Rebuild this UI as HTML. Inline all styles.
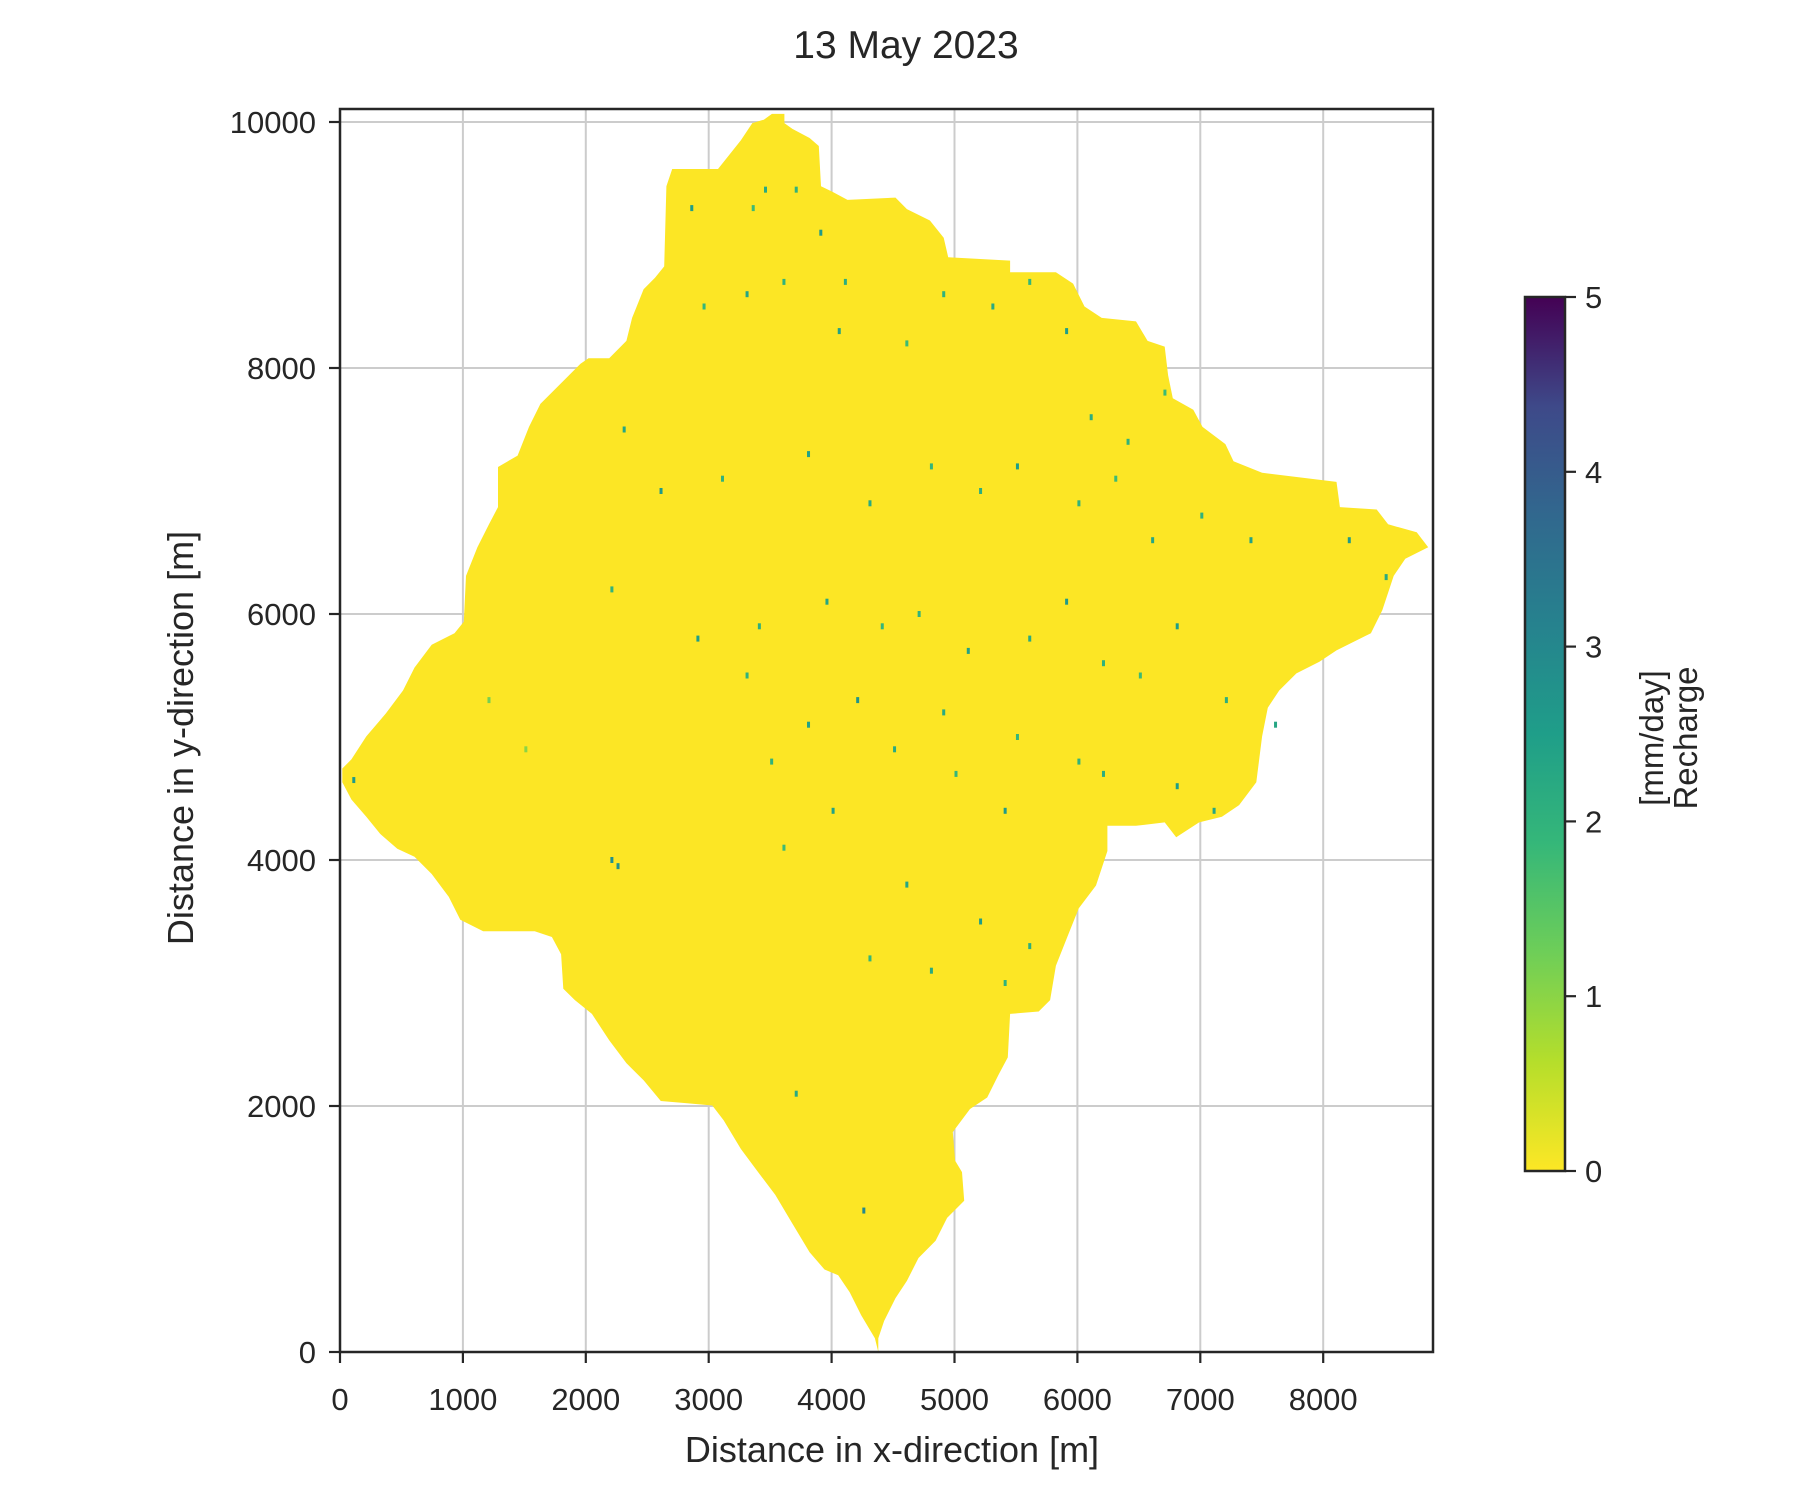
<!DOCTYPE html>
<html><head><meta charset="utf-8"><style>
html,body{margin:0;padding:0;background:#fff;}
svg{display:block;font-family:"Liberation Sans",Arial,sans-serif;}
</style></head><body>
<svg id="chart" width="1800" height="1500" viewBox="0 0 1800 1500" xmlns="http://www.w3.org/2000/svg">
<defs>
<linearGradient id="viridis" x1="0" y1="1" x2="0" y2="0">
<stop offset="0" stop-color="#fde725"/><stop offset="0.125" stop-color="#b5de2b"/><stop offset="0.25" stop-color="#6ece58"/><stop offset="0.375" stop-color="#35b779"/><stop offset="0.5" stop-color="#1f9e89"/><stop offset="0.625" stop-color="#26828e"/><stop offset="0.75" stop-color="#31688e"/><stop offset="0.875" stop-color="#3e4989"/><stop offset="1" stop-color="#440154"/>
</linearGradient>
<clipPath id="plotclip"><rect x="340" y="109" width="1093" height="1243"/></clipPath>
</defs>
<text x="906" y="58" font-size="39" text-anchor="middle" fill="#262626">13 May 2023</text>
<g id="grid"></g>
<g id="field" clip-path="url(#plotclip)"></g>
<g id="axes"></g>
<text x="892" y="1462" font-size="36" text-anchor="middle" fill="#262626">Distance in x-direction [m]</text>
<text transform="translate(193,738) rotate(-90)" font-size="36" text-anchor="middle" fill="#262626">Distance in y-direction [m]</text>
<g id="cbar"></g>
<text transform="translate(1673,738) rotate(-90)" font-size="33" text-anchor="middle" fill="#262626"><tspan x="0" dy="-10">[mm/day]</tspan><tspan x="0" dy="34">Recharge</tspan></text>
</svg>
<script>
// Axis data
const xTicks = [0,1000,2000,3000,4000,5000,6000,7000,8000];
const yTicks = [0,2000,4000,6000,8000,10000];
const cbTicks = [0,1,2,3,4,5];
// Catchment boundary (meters)
const boundaryX = [3514,3616,3616,3681,3821,3896,3914,4008,4129,4520,4613,4800,4912,4949,5452,5452,5825,5965,6058,6198,6477,6571,6710,6738,6776,6943,7018,7204,7270,7503,8108,8136,8435,8528,8761,8854,8668,8574,8481,8388,8108,7969,7782,7642,7549,7503,7456,7316,7176,6990,6804,6710,6477,6244,6244,6151,6011,5918,5825,5778,5685,5452,5434,5359,5266,5126,4986,5005,5061,5079,4940,4846,4707,4613,4520,4427,4380,4380,4352,4241,4147,4054,3942,3821,3681,3542,3402,3262,3122,3029,2824,2610,2470,2330,2190,2050,1911,1817,1799,1724,1584,1165,979,885,746,606,466,326,214,93,19,19,93,214,373,513,606,746,932,1007,1025,1118,1212,1286,1286,1445,1538,1631,1817,1957,2022,2190,2330,2377,2470,2563,2638,2656,2703,3076,3262,3355,3448];
const boundaryY = [10066,10066,9991,9944,9870,9805,9478,9432,9367,9385,9292,9199,9059,8901,8873,8779,8779,8686,8500,8407,8379,8220,8174,7941,7754,7661,7521,7381,7242,7148,7074,6869,6850,6729,6664,6543,6449,6310,6030,5844,5704,5611,5517,5378,5238,5005,4632,4446,4352,4306,4185,4306,4278,4278,4073,3793,3607,3374,3141,2861,2768,2749,2395,2255,2069,1976,1789,1556,1463,1230,1090,904,764,578,438,252,112,0,112,298,485,624,671,811,1044,1277,1463,1650,1883,2004,2022,2041,2209,2349,2535,2749,2861,2954,3234,3374,3420,3420,3514,3700,3886,4026,4091,4213,4352,4492,4632,4744,4818,5005,5191,5378,5564,5750,5844,5937,6310,6543,6729,6869,7195,7288,7521,7708,7894,8034,8080,8080,8220,8407,8640,8733,8826,9478,9618,9618,9851,9991,10019];
// Scattered recharge cells (meters, mm/day)
const cellX = [2850,3350,3450,3700,3900,4100,2950,3300,3600,4050,4600,4900,5300,5600,5900,6100,6400,6700,2300,2600,3100,3800,4300,4800,5200,5500,6000,6300,6600,7000,7400,8200,8500,2200,2900,3400,3950,4400,4700,5100,5600,5900,6200,6500,6800,7200,7600,3300,3800,4200,4900,5500,6200,6800,7100,2200,3500,4000,4500,5000,5400,6000,3600,4600,5200,5600,4300,4800,5400,1200,1500,100,2250,3700,4250];
const cellY = [9300,9300,9450,9450,9100,8700,8500,8600,8700,8300,8200,8600,8500,8700,8300,7600,7400,7800,7500,7000,7100,7300,6900,7200,7000,7200,6900,7100,6600,6800,6600,6600,6300,6200,5800,5900,6100,5900,6000,5700,5800,6100,5600,5500,5900,5300,5100,5500,5100,5300,5200,5000,4700,4600,4400,4000,4800,4400,4900,4700,4400,4800,4100,3800,3500,3300,3200,3100,3000,5300,4900,4650,3950,2100,1150];
const cellV = [2.5,1.8,2.2,2,2.6,2.1,1.9,2.3,2,2.4,1.8,2,2.2,1.9,2.5,2.1,2,1.8,2.3,2.6,2,2.4,2.2,1.9,2.1,2.5,2,1.8,2.3,2,2.4,2.6,2.2,2,2.5,2.1,2.3,1.9,2,2.4,2.2,2.6,2,1.8,2.5,2.1,2.3,2,2.4,2.7,2.2,1.9,2.1,2.5,2.3,2.8,2,2.4,2.2,1.9,2.6,2,1.8,2.3,2.5,2.1,1.9,2.2,2,1.2,1,2.6,2.8,2.2,3];

const X0=340, X1=1433, Y0=1352, Ytop=109;
const sx = 0.1229, sy = 0.1230;
function px(x){return X0 + x*sx;}
function py(y){return Y0 - y*sy;}
const NS="http://www.w3.org/2000/svg";
function mk(tag, attrs, parent){const e=document.createElementNS(NS,tag);for(const k in attrs)e.setAttribute(k,attrs[k]);parent.appendChild(e);return e;}
function viridis(v){
  const stops=[[253,231,37],[181,222,43],[110,206,88],[53,183,121],[31,158,137],[38,130,142],[49,104,142],[62,73,137],[68,1,84]];
  const t=Math.max(0,Math.min(1,v/5))*8, i=Math.min(7,Math.floor(t)), f=t-i;
  const c=stops[i].map((a,k)=>Math.round(a+(stops[i+1][k]-a)*f));
  return `rgb(${c[0]},${c[1]},${c[2]})`;
}
const grid=document.getElementById('grid');
xTicks.forEach(t=>{
  const l=mk('line',{x1:px(t),x2:px(t),y1:Ytop,y2:Y0,stroke:'#cccccc','stroke-width':2},grid);
  
  
});
yTicks.forEach(t=>{
  const l=mk('line',{x1:X0,x2:X1,y1:py(t),y2:py(t),stroke:'#cccccc','stroke-width':2},grid);
  
  
});
const field=document.getElementById('field');
const pts=boundaryX.map((x,i)=>px(x).toFixed(1)+','+py(boundaryY[i]).toFixed(1)).join(' ');
const poly=mk('polygon',{points:pts,fill:'#fce625',stroke:'none'},field);


cellX.forEach((x,i)=>{
  const r=mk('rect',{x:px(x),y:py(cellY[i])-3,width:3,height:6,fill:viridis(cellV[i])},field);
  
  
});
const axes=document.getElementById('axes');
const frame=mk('rect',{x:X0,y:Ytop,width:X1-X0,height:Y0-Ytop,fill:'none',stroke:'#262626','stroke-width':2.5},axes);


xTicks.forEach(t=>{
  const tk=mk('line',{x1:px(t),x2:px(t),y1:Y0,y2:Y0+11,stroke:'#262626','stroke-width':2.2},axes);
  
  
  const tx=mk('text',{x:px(t),y:Y0+58,'font-size':31,'text-anchor':'middle',fill:'#262626'},axes);
  tx.textContent=t;
  
  
});
yTicks.forEach(t=>{
  const tk=mk('line',{x1:X0-11,x2:X0,y1:py(t),y2:py(t),stroke:'#262626','stroke-width':2.2},axes);
  
  
  const tx=mk('text',{x:X0-24,y:py(t)+11,'font-size':31,'text-anchor':'end',fill:'#262626'},axes);
  tx.textContent=t;
  
  
});
const cb=document.getElementById('cbar');
const CX=1525, CW=40, CT=297, CB=1171;
const bar=mk('rect',{x:CX,y:CT,width:CW,height:CB-CT,fill:'url(#viridis)',stroke:'#262626','stroke-width':2.5},cb);


cbTicks.forEach(t=>{
  const y=CB-(CB-CT)*t/5;
  const tk=mk('line',{x1:CX+CW,x2:CX+CW+11,y1:y,y2:y,stroke:'#262626','stroke-width':2.2},cb);
  
  
  const tx=mk('text',{x:CX+CW+20,y:y+11,'font-size':31,fill:'#262626'},cb);
  tx.textContent=t;
  
  
});
</script>
</body></html>
